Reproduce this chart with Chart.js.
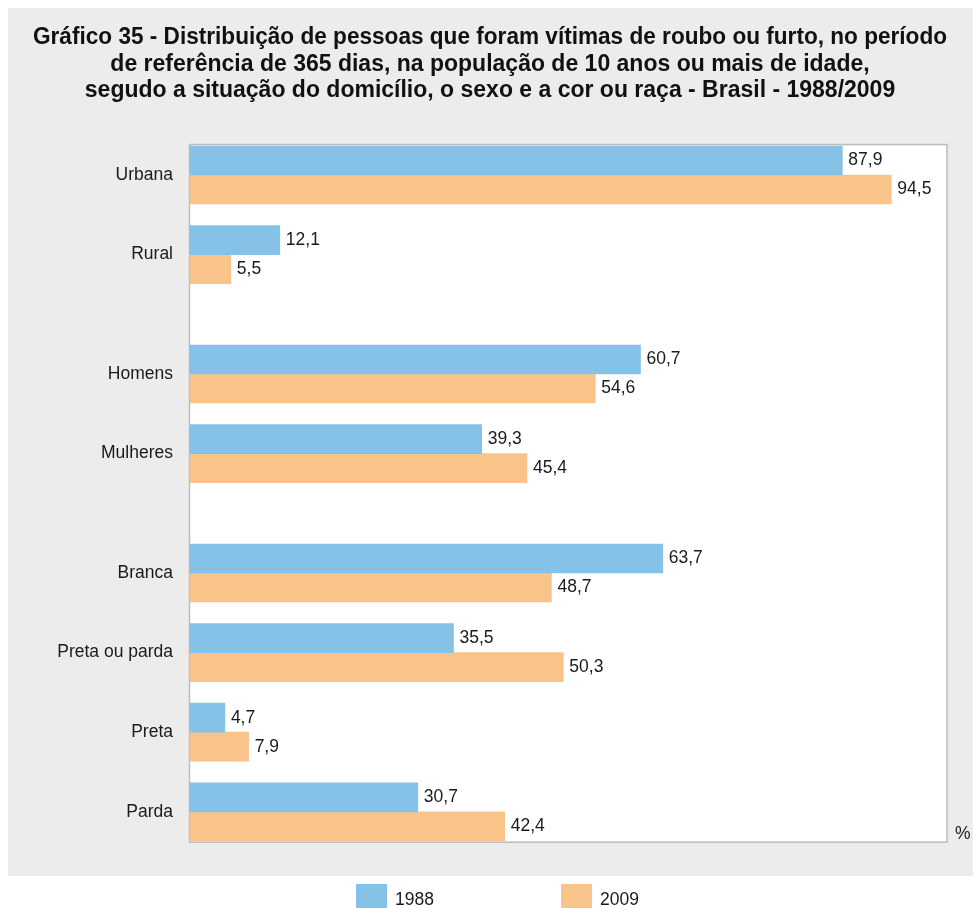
<!DOCTYPE html>
<html>
<head>
<meta charset="utf-8">
<title>Gráfico 35</title>
<script src="https://cdn.jsdelivr.net/npm/chart.js@4/dist/chart.umd.min.js"></script>
<style>
  html, body { margin: 0; padding: 0; background: #fff; }
  #wrap { width: 973px; height: 908px; }
</style>
</head>
<body>
<div id="wrap"><canvas id="chart" width="973" height="908"></canvas></div>
<script>
const titleLines = [
    'Gráfico 35 - Distribuição de pessoas que foram vítimas de roubo ou furto, no período',
    'de referência de 365 dias, na população de 10 anos ou mais de idade,',
    'segudo a situação do domicílio, o sexo e a cor ou raça - Brasil - 1988/2009'
];
// empty entries are spacer slots between the groups
const categories = ['Urbana', '', 'Rural', '', '', 'Homens', '', 'Mulheres', '', '', 'Branca', '', 'Preta ou parda', '', 'Preta', '', 'Parda'];
const values1988 = [87.9, null, 12.1, null, null, 60.7, null, 39.3, null, null, 63.7, null, 35.5, null, 4.7, null, 30.7];
const values2009 = [94.5, null, 5.5, null, null, 54.6, null, 45.4, null, null, 48.7, null, 50.3, null, 7.9, null, 42.4];
const seriesLabels = ['1988', '2009'];
const seriesColors = ['#86c2e7', '#f8c48a'];
const unitLabel = '%';

const fontFamily = '"Liberation Sans", Arial, Helvetica, sans-serif';

// grey panel + white plot box
const panelPlugin = {
    id: 'panel',
    beforeDraw(chart) {
        const ctx = chart.ctx;
        const area = chart.chartArea;
        ctx.save();
        ctx.fillStyle = '#fff';
        ctx.fillRect(0, 0, chart.width, chart.height);
        ctx.fillStyle = '#ebeceb';
        ctx.fillRect(8, 8, chart.width - 8, 868);
        ctx.fillStyle = '#fff';
        ctx.fillRect(area.left - 0.5, area.top - 10.5, area.right - area.left + 0.5, area.bottom - area.top + 21);
        ctx.strokeStyle = '#bcbcbc';
        ctx.lineWidth = 1.5;
        ctx.strokeRect(area.left - 0.5, area.top - 10.5, area.right - area.left + 0.5, area.bottom - area.top + 21);
        ctx.restore();
    }
};

// value labels, unit sign and legend
const labelsPlugin = {
    id: 'valueLabels',
    afterDatasetsDraw(chart) {
        const ctx = chart.ctx;
        ctx.save();
        ctx.font = '17.5px ' + fontFamily;
        ctx.fillStyle = '#1a1a1a';
        ctx.textAlign = 'left';
        ctx.textBaseline = 'alphabetic';
        chart.data.datasets.forEach((ds, di) => {
            const meta = chart.getDatasetMeta(di);
            meta.data.forEach((bar, i) => {
                const v = ds.data[i];
                if (v === null || v === undefined) return;
                ctx.fillText(v.toFixed(1).replace('.', ','), bar.x + 6, bar.y + 5);
            });
        });
        const area = chart.chartArea;
        ctx.fillText(unitLabel, area.right + 8, area.bottom + 7);
        ctx.restore();
    },
    afterDraw(chart) {
        const ctx = chart.ctx;
        ctx.save();
        ctx.font = '17.5px ' + fontFamily;
        ctx.textBaseline = 'alphabetic';
        chart.data.datasets.forEach((ds, di) => {
            const x = 356 + di * 205;
            ctx.fillStyle = ds.backgroundColor;
            ctx.fillRect(x, 884, 31, 24);
            ctx.fillStyle = '#1a1a1a';
            ctx.fillText(ds.label, x + 39, 905);
        });
        ctx.restore();
    }
};

new Chart(document.getElementById('chart'), {
    type: 'bar',
    data: {
        labels: categories,
        datasets: [
            { label: seriesLabels[0], data: values1988, backgroundColor: seriesColors[0], barThickness: 29, clip: false },
            { label: seriesLabels[1], data: values2009, backgroundColor: seriesColors[1], barThickness: 29, clip: false }
        ]
    },
    options: {
        indexAxis: 'y',
        responsive: false,
        animation: false,
        layout: { padding: { top: 0, left: 33, right: 26, bottom: 76.3 } },
        scales: {
            x: { display: false, min: 0, max: 102 },
            y: {
                type: 'category',
                offset: true,
                grid: { display: false, drawTicks: false },
                border: { display: false },
                ticks: {
                    autoSkip: false,
                    padding: 17,
                    color: '#1a1a1a',
                    font: { family: fontFamily, size: 17.5 }
                },
                afterFit(scale) { scale.width = 157; }
            }
        },
        plugins: {
            legend: { display: false },
            tooltip: { enabled: false },
            title: {
                display: true,
                text: titleLines,
                color: '#111',
                font: { family: fontFamily, size: 23, weight: 'bold', lineHeight: 1.152 },
                padding: { top: 24.5, bottom: 51.1 }
            }
        }
    },
    plugins: [panelPlugin, labelsPlugin]
});
</script>
</body>
</html>
